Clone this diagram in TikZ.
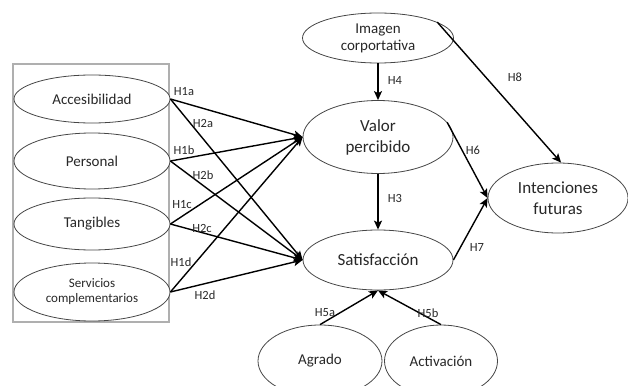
\documentclass[tikz,border=0pt]{standalone}
\usepackage{fontspec}
\setmainfont{Carlito}
\usepackage{tikz}
\usetikzlibrary{positioning,arrows.meta,shapes,calc}
\definecolor{EdgeGray}{RGB}{70,70,70}
\definecolor{BoxGray}{RGB}{175,175,175}
\definecolor{DarkText}{RGB}{40,40,40}

\begin{document}
\begin{tikzpicture}[
    x=1pt, y=-1pt,
    construct/.style={ellipse, draw=EdgeGray, line width=0.8pt, fill=white, inner sep=0pt,
        align=center, text=DarkText, font=\fontsize{15}{17}\selectfont},
    main/.style={construct, font=\fontsize{17}{21}\selectfont},
    hyp/.style={font=\fontsize{12.5}{14}\selectfont, text=DarkText, inner sep=0pt},
    link/.style={-{Stealth[length=9pt, width=8pt, inset=2pt]}, line width=1.4pt, black},
]
\useasboundingbox (0,0) rectangle (628,385);

\draw[BoxGray, line width=1.4pt] (13,64) rectangle (169,322);

\node[construct, minimum width=156pt, minimum height=48pt] (acc) at (92,99) {Accesibilidad};
\node[construct, minimum width=156pt, minimum height=56pt] (pers) at (92,161) {Personal};
\node[construct, minimum width=156pt, minimum height=52pt] (tang) at (92,224) {Tangibles};
\node[construct, minimum width=156pt, minimum height=58pt, font=\fontsize{13}{15}\selectfont] (serv) at (92,292) {Servicios\\complementarios};

\node[construct, minimum width=151pt, minimum height=50pt] (img) at (378,38) {Imagen\\corportativa};
\node[main, minimum width=150pt, minimum height=73pt] (valor) at (378,137) {Valor\\percibido};
\node[main, minimum width=150pt, minimum height=60pt] (satis) at (378,260) {Satisfacción};
\node[main, minimum width=140pt, minimum height=70pt] (inten) at (558,198) {Intenciones\\futuras};
\node[construct, minimum width=124pt, minimum height=72pt] (agrado) at (320,361) {Agrado};
\node[construct, minimum width=113pt, minimum height=72pt] (activ) at (441,361) {Activación};

\draw[link] (acc.east) -- (valor.west);
\draw[link] (acc.east) -- (satis.west);
\draw[link] (pers.east) -- (valor.west);
\draw[link] (pers.east) -- (satis.west);
\draw[link] (tang.east) -- (valor.west);
\draw[link] (tang.east) -- (satis.west);
\draw[link] (serv.east) -- (valor.west);
\draw[link] (serv.east) -- (satis.west);

\draw[link] (img.south) -- (valor.north);
\draw[link] (valor.south) -- (satis.north);
\draw[link] (img.15) -- (inten.85);
\draw[link] (valor.12) -- (inten.west);
\draw[link] (satis.east) -- (inten.west);
\draw[link] (agrado.north) -- (satis.south);
\draw[link] (activ.north) -- (satis.south);

\node[hyp] (h1a) at (184,92) {H1a};
\node[hyp] (h2a) at (203,123) {H2a};
\node[hyp] (h1b) at (184,150) {H1b};
\node[hyp] (h2b) at (203,175) {H2b};
\node[hyp] (h1c) at (182,205) {H1c};
\node[hyp] (h2c) at (202,228) {H2c};
\node[hyp] (h1d) at (181,262) {H1d};
\node[hyp] (h2d) at (205,295) {H2d};
\node[hyp] (h4) at (395,80) {H4};
\node[hyp] (h3) at (395,198) {H3};
\node[hyp] (h8) at (515,77) {H8};
\node[hyp] (h6) at (473,150) {H6};
\node[hyp] (h7) at (477,247) {H7};
\node[hyp] (h5a) at (325,313) {H5a};
\node[hyp] (h5b) at (428,313) {H5b};
\end{tikzpicture}
\end{document}
